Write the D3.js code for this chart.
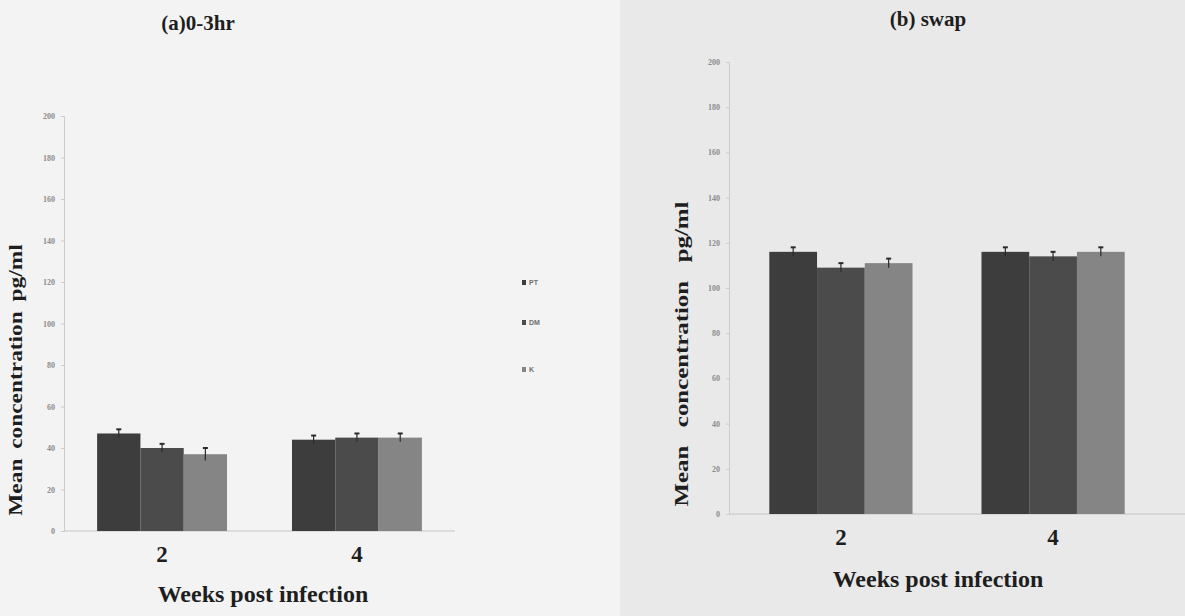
<!DOCTYPE html>
<html>
<head>
<meta charset="utf-8">
<script src="https://cdn.jsdelivr.net/npm/d3@7"></script>
<style>
  body { margin: 0; background: #ececec; }
  svg { display: block; }
</style>
</head>
<body>
<svg id="chart" width="1185" height="616"></svg>
<script>
// data
const weeks = ["2", "4"];
const groups = ["PT", "DM", "K"];
const yTicks = [0, 20, 40, 60, 80, 100, 120, 140, 160, 180, 200];

// (a) 0-3hr, one row per week, one value per group
const hrValues = [[47, 40, 37], [44, 45, 45]];
const hrErrors = [[2, 2, 3], [2, 2, 2]];

// (b) swap
const swapValues = [[116, 109, 111], [116, 114, 116]];
const swapErrors = [[2, 2, 2], [2, 2, 2]];

const barColors = ["#3d3d3d", "#4b4b4b", "#858585"];

const svg = d3.select("#chart");

// page background (scan is lighter on the left)
svg.append("rect").attr("x", 0).attr("y", 0).attr("width", 620).attr("height", 616).attr("fill", "#f3f3f3");
svg.append("rect").attr("x", 620).attr("y", 0).attr("width", 565).attr("height", 616).attr("fill", "#e9e9e9");

function drawChart(opt) {
    const g = svg.append("g");

    const yScale = d3.scaleLinear()
        .domain([0, 200])
        .range([opt.bottom, opt.top]);

    const xScale = d3.scaleBand()
        .domain(weeks)
        .range([opt.left, opt.right])
        .paddingInner(opt.padIn)
        .paddingOuter(opt.padOut);

    const xSub = d3.scaleBand()
        .domain(groups)
        .range([0, xScale.bandwidth()]);

    // y axis
    const yAxis = g.append("g")
        .attr("transform", `translate(${opt.left},0)`)
        .call(d3.axisLeft(yScale).tickValues(yTicks).tickSize(3).tickPadding(6));
    yAxis.select(".domain").attr("stroke", "#cccccc");
    yAxis.selectAll(".tick line").attr("stroke", "#cccccc");
    yAxis.selectAll("text")
        .attr("fill", "#8c8c8c")
        .style("font-family", "Liberation Serif")
        .style("font-weight", "bold")
        .style("font-size", "8px");

    // x axis line
    g.append("line")
        .attr("x1", opt.left).attr("x2", opt.axisEnd)
        .attr("y1", yScale(0)).attr("y2", yScale(0))
        .attr("stroke", "#c4c4c4");

    const rows = weeks.map((w, i) => ({ week: w, vals: opt.values[i], errs: opt.errors[i] }));

    const grp = g.selectAll(".week")
        .data(rows)
        .enter()
        .append("g")
        .attr("transform", d => `translate(${xScale(d.week)},0)`);

    grp.selectAll("rect")
        .data(d => d.vals.map((v, j) => ({ key: groups[j], value: v, err: d.errs[j], idx: j })))
        .enter()
        .append("rect")
        .attr("x", d => xSub(d.key))
        .attr("y", d => yScale(d.value))
        .attr("width", xSub.bandwidth())
        .attr("height", d => yScale(0) - yScale(d.value))
        .attr("fill", d => barColors[d.idx]);

    // error bars
    const eb = grp.selectAll(".err")
        .data(d => d.vals.map((v, j) => ({ key: groups[j], value: v, err: d.errs[j] })))
        .enter()
        .append("g");
    eb.append("line")
        .attr("x1", d => xSub(d.key) + xSub.bandwidth() / 2)
        .attr("x2", d => xSub(d.key) + xSub.bandwidth() / 2)
        .attr("y1", d => yScale(d.value - d.err))
        .attr("y2", d => yScale(d.value + d.err))
        .attr("stroke", "#2a2a2a")
        .attr("stroke-width", 1.2);
    eb.append("line")
        .attr("x1", d => xSub(d.key) + xSub.bandwidth() / 2 - 2.5)
        .attr("x2", d => xSub(d.key) + xSub.bandwidth() / 2 + 2.5)
        .attr("y1", d => yScale(d.value + d.err))
        .attr("y2", d => yScale(d.value + d.err))
        .attr("stroke", "#2a2a2a")
        .attr("stroke-width", 2);

    // week labels
    g.selectAll(".wk")
        .data(weeks)
        .enter()
        .append("text")
        .attr("x", d => xScale(d) + xScale.bandwidth() / 2)
        .attr("y", opt.weekY)
        .attr("text-anchor", "middle")
        .style("font-family", "Liberation Serif")
        .style("font-weight", "bold")
        .style("font-size", "23px")
        .attr("fill", "#1e1e1e")
        .text(d => d);

    // x title
    g.append("text")
        .attr("x", opt.xTitleX)
        .attr("y", opt.xTitleY)
        .attr("text-anchor", "middle")
        .style("font-family", "Liberation Serif")
        .style("font-weight", "bold")
        .style("font-size", "24px")
        .attr("fill", "#1e1e1e")
        .text("Weeks post infection");

    // y title (scan stretches it along its length)
    g.append("text")
        .attr("transform", `translate(${opt.yTitleX},${opt.yTitleY}) rotate(-90) scale(${opt.yTitleStretch},1)`)
        .attr("text-anchor", "middle")
        .style("font-family", "Liberation Serif")
        .style("font-weight", "bold")
        .style("font-size", "18px")
        .style("word-spacing", opt.yTitleGap + "px")
        .attr("fill", "#1e1e1e")
        .text("Mean concentration pg/ml");

    // chart title
    g.append("text")
        .attr("x", opt.titleX)
        .attr("y", opt.titleY)
        .attr("text-anchor", "middle")
        .style("font-family", "Liberation Serif")
        .style("font-weight", "bold")
        .style("font-size", "21px")
        .attr("fill", "#1e1e1e")
        .text(opt.title);

    return g;
}

drawChart({
    title: "(a)0-3hr", titleX: 198, titleY: 30,
    values: hrValues, errors: hrErrors,
    left: 64, right: 455, axisEnd: 455, padIn: 1 / 3, padOut: 0.17,
    top: 116, bottom: 531,
    weekY: 562, xTitleX: 263, xTitleY: 602,
    yTitleX: 22, yTitleY: 380, yTitleStretch: 1.3, yTitleGap: 3
});

drawChart({
    title: "(b) swap", titleX: 928, titleY: 26,
    values: swapValues, errors: swapErrors,
    left: 729, right: 1165, axisEnd: 1185, padIn: 0.325, padOut: 0.19,
    top: 62, bottom: 514,
    weekY: 545, xTitleX: 938, xTitleY: 587,
    yTitleX: 688, yTitleY: 354, yTitleStretch: 1.38, yTitleGap: 9
});

// legend of chart (a)
const legend = svg.append("g")
    .selectAll("g")
    .data(groups)
    .enter()
    .append("g")
    .attr("transform", (d, i) => `translate(522,${[283, 323, 370][i]})`);
legend.append("rect")
    .attr("x", 0).attr("y", -3)
    .attr("width", 4).attr("height", 5)
    .attr("fill", (d, i) => barColors[i]);
legend.append("text")
    .attr("x", 7).attr("y", 2)
    .style("font-family", "Liberation Sans")
    .style("font-weight", "bold")
    .style("font-size", "7px")
    .attr("fill", "#6e6e6e")
    .text(d => d);
</script>
</body>
</html>
